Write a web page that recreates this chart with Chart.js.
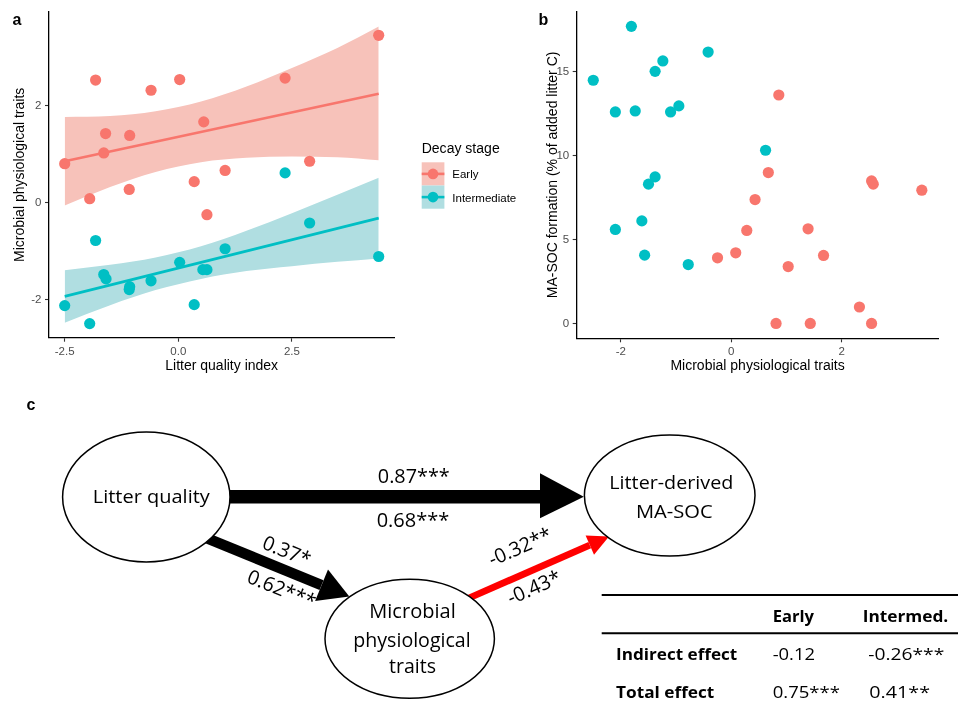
<!DOCTYPE html>
<html>
<head>
<meta charset="utf-8">
<script src="https://cdn.jsdelivr.net/npm/chart.js@4.4.0/dist/chart.umd.min.js"></script>
<style>
  html, body { margin:0; padding:0; background:#fff; }
  #wrap { position:relative; width:960px; height:708px; overflow:hidden; }
  .cv { position:absolute; }
  #overlay { position:absolute; left:0; top:0; pointer-events:none; }
</style>
</head>
<body>
<div id="wrap">
  <canvas id="chartA" class="cv" width="400" height="380" style="left:0;top:0;width:400px;height:380px"></canvas>
  <canvas id="chartB" class="cv" width="430" height="380" style="left:530px;top:0;width:430px;height:380px"></canvas>
  <svg id="overlay" width="960" height="708" xmlns="http://www.w3.org/2000/svg"></svg>
</div>
<script>
// ---------------- DATA ----------------
const SERIES = ['Early', 'Intermediate'];

// Panel a: litter quality index (x) vs microbial physiological traits (y)
const A_EARLY_X = [-2.50, -1.82, -1.60, -1.64, -1.07, -0.60, 0.03, 0.56, 2.35, 4.41, 2.89, 1.03, 0.35, -1.08, -1.95, 0.63];
const A_EARLY_Y = [0.80, 2.52, 1.42, 1.02, 1.38, 2.31, 2.53, 1.66, 2.56, 3.44, 0.85, 0.66, 0.43, 0.27, 0.08, -0.25];
const A_INTER_X = [-1.82, -2.50, -1.95, -1.64, -1.59, -1.07, -1.08, -0.60, 0.03, 0.35, 0.54, 0.63, 1.03, 2.89, 4.41, 2.35];
const A_INTER_Y = [-0.78, -2.12, -2.49, -1.48, -1.57, -1.73, -1.79, -1.61, -1.23, -2.10, -1.38, -1.38, -0.95, -0.42, -1.11, 0.61];

// fitted lines
const FIT_X = [-2.50, 4.41];
const FIT_EARLY = [0.85, 2.24];
const FIT_INTER = [-1.93, -0.32];

// confidence ribbons
const BAND_X = [-2.50, -1.50, -0.50, 0.50, 1.50, 2.50, 3.50, 4.41];
const BAND_EARLY_HI = [1.76, 1.78, 1.88, 2.08, 2.39, 2.77, 3.18, 3.62];
const BAND_EARLY_LO = [-0.06, 0.32, 0.63, 0.83, 0.92, 0.95, 0.93, 0.87];
const BAND_INTER_HI = [-1.39, -1.28, -1.13, -0.90, -0.58, -0.22, 0.16, 0.51];
const BAND_INTER_LO = [-2.47, -2.11, -1.80, -1.57, -1.41, -1.31, -1.22, -1.15];

const A_X_TICKS = [-2.5, 0, 2.5];
const A_Y_TICKS = [-2, 0, 2];

// Panel b: microbial physiological traits (x) vs MA-SOC formation (y)
const B_EARLY_X = [0.86, 0.67, 2.54, 2.57, 3.45, 0.43, 0.28, 1.39, 0.08, -0.25, 1.67, 1.03, 2.32, 0.81, 1.43, 2.54];
const B_EARLY_Y = [13.61, 8.99, 8.49, 8.30, 7.94, 7.38, 5.54, 5.64, 4.21, 3.91, 4.05, 3.39, 0.98, 0, 0, 0];
const B_INTER_X = [-1.81, -2.50, -2.10, -1.74, -1.38, -1.24, -1.10, -0.95, -0.42, 0.62, -1.38, -1.50, -2.10, -1.62, -1.57, -0.78];
const B_INTER_Y = [17.70, 14.49, 12.60, 12.66, 15.02, 15.64, 12.60, 12.96, 16.17, 10.32, 8.73, 8.30, 5.60, 6.11, 4.07, 3.51];

const B_X_TICKS = [-2, 0, 2];
const B_Y_TICKS = [0, 5, 10, 15];

// Panel c: path model
const NODE_LITTER = ['Litter quality'];
const NODE_MASOC = ['Litter-derived', 'MA-SOC'];
const NODE_MICROBE = ['Microbial', 'physiological', 'traits'];
const COEF_EARLY = ['0.87***', '0.37*', '-0.32**'];
const COEF_INTER = ['0.68***', '0.62***', '-0.43*'];
const TABLE_COLS = ['Early', 'Intermed.'];
const TABLE_ROWS = ['Indirect effect', 'Total effect'];
const TABLE_EARLY = ['-0.12', '0.75***'];
const TABLE_INTER = ['-0.26***', '0.41**'];

// ---------------- STYLE ----------------
const COL_E = '#F8766D', COL_I = '#00BFC4';
const RIB_E = '#F7C2BA', RIB_I = '#B0DEE1';
const FONT = "'Liberation Sans', Arial, Helvetica, sans-serif";
const CFONT = "'Open Sans', 'Noto Sans', sans-serif";
Chart.defaults.font.family = FONT;

const zip = (xs, ys) => xs.map((x, i) => ({ x: x, y: ys[i] }));

function band(xs, ys, fill, color) {
  return { data: zip(xs, ys), showLine: true, borderWidth: 0, borderColor: 'rgba(0,0,0,0)',
    pointRadius: 0, fill: fill, backgroundColor: color, cubicInterpolationMode: 'monotone', order: 3 };
}
function fit(xs, ys, color) {
  return { data: zip(xs, ys), showLine: true, borderWidth: 2.6, borderColor: color,
    pointRadius: 0, fill: false, order: 2 };
}
function pts(xs, ys, color) {
  return { data: zip(xs, ys), showLine: false, pointRadius: 5.6, pointBackgroundColor: color,
    pointBorderWidth: 0, pointBorderColor: color, backgroundColor: color, order: 1 };
}

function axis(min, max, ticks, fmt, title, isY, fitSize, titlePad) {
  return {
    type: 'linear', min: min, max: max,
    afterBuildTicks: s => { s.ticks = ticks.map(v => ({ value: v })); },
    afterFit: s => { if (isY) s.width = fitSize; else s.height = fitSize; },
    ticks: { callback: fmt, color: '#4D4D4D', font: { size: 11.5 }, padding: isY ? 3.5 : 3,
      maxRotation: 0, autoSkip: false },
    grid: { drawOnChartArea: false, drawTicks: true, tickLength: 4, tickColor: '#333333', tickWidth: 1.1 },
    border: { display: true, color: '#000000', width: 1.3 },
    title: { display: true, text: title, color: '#000000', font: { size: 14 }, padding: titlePad }
  };
}

function makeChart(id, datasets, xs, ys, padding) {
  return new Chart(document.getElementById(id), {
    type: 'scatter',
    data: { datasets: datasets },
    options: {
      responsive: false, animation: false, events: [],
      layout: { padding: padding },
      plugins: { legend: { display: false }, tooltip: { enabled: false } },
      scales: { x: xs, y: ys }
    }
  });
}

// Panel a
makeChart('chartA', [
  band(BAND_X, BAND_EARLY_HI, '+1', RIB_E),
  band(BAND_X, BAND_EARLY_LO, false, RIB_E),
  band(BAND_X, BAND_INTER_HI, '+1', RIB_I),
  band(BAND_X, BAND_INTER_LO, false, RIB_I),
  fit(FIT_X, FIT_EARLY, COL_E),
  fit(FIT_X, FIT_INTER, COL_I),
  pts(A_EARLY_X, A_EARLY_Y, COL_E),
  pts(A_INTER_X, A_INTER_Y, COL_I)
],
  axis(-2.8455, 4.7555, A_X_TICKS, v => v.toFixed(1), 'Litter quality index', false, 42.3, { top: 0, bottom: 5.6 }),
  axis(-2.78, 3.92, A_Y_TICKS, v => String(v), 'Microbial physiological traits', true, 49, { top: 12, bottom: 0 }),
  { top: 12, right: 0, left: 0, bottom: 0 });

// Panel b
makeChart('chartB', [
  pts(B_EARLY_X, B_EARLY_Y, COL_E),
  pts(B_INTER_X, B_INTER_Y, COL_I)
],
  axis(-2.80, 3.75, B_X_TICKS, v => String(v), 'Microbial physiological traits', false, 41.7, { top: 0, bottom: 5.6 }),
  axis(-0.885, 18.585, B_Y_TICKS, v => String(v), 'MA-SOC formation (% of added litter C)', true, 46.7, { top: 14.6, bottom: 0 }),
  { top: 11.5, right: 21.6, left: 0, bottom: 0 });

// ---------------- OVERLAY (labels, legend, panel c) ----------------
const svg = [];
function t(s, x, y, o) {
  o = o || {};
  const fam = o.fam || CFONT;
  const attrs = [
    `x="${x}"`, `y="${y}"`, `font-family="${fam}"`, `font-size="${o.size || 20}"`,
    `fill="${o.fill || '#000'}"`, `text-anchor="${o.anchor || 'start'}"`
  ];
  if (o.weight) attrs.push(`font-weight="${o.weight}"`);
  if (o.len) attrs.push(`textLength="${o.len}"`, `lengthAdjust="spacingAndGlyphs"`);
  if (o.rot !== undefined) attrs.push(`transform="rotate(${o.rot} ${o.rx} ${o.ry})"`);
  svg.push(`<text ${attrs.join(' ')}>${s}</text>`);
}
function poly(p, fill) {
  svg.push(`<polygon points="${p.map(q => q[0].toFixed(1) + ',' + q[1].toFixed(1)).join(' ')}" fill="${fill}"/>`);
}
function arrow(S, T, shaftHalf, headLen, headHalf, color) {
  const dx = T[0] - S[0], dy = T[1] - S[1], L = Math.hypot(dx, dy);
  const u = [dx / L, dy / L], n = [-u[1], u[0]];
  const B = [T[0] - headLen * u[0], T[1] - headLen * u[1]];
  const add = (P, v, k) => [P[0] + v[0] * k, P[1] + v[1] * k];
  poly([add(S, n, shaftHalf), add(B, n, shaftHalf), add(B, n, -shaftHalf), add(S, n, -shaftHalf)], color);
  poly([add(B, n, headHalf), T, add(B, n, -headHalf)], color);
}

// panel labels
t('a', 12.5, 25, { fam: FONT, size: 16, weight: 700 });
t('b', 538.5, 25, { fam: FONT, size: 16, weight: 700 });
t('c', 26.5, 410, { fam: FONT, size: 16, weight: 700 });

// legend for panel a
t('Decay stage', 421.7, 153.3, { fam: FONT, size: 14, len: 78 });
const legCols = [[COL_E, RIB_E], [COL_I, RIB_I]];
SERIES.forEach((name, i) => {
  const y0 = 162.3 + i * 23.2;
  svg.push(`<rect x="421.7" y="${y0}" width="22.7" height="23.2" fill="${legCols[i][1]}"/>`);
  svg.push(`<line x1="421.7" x2="444.4" y1="${y0 + 11.6}" y2="${y0 + 11.6}" stroke="${legCols[i][0]}" stroke-width="2.6"/>`);
  svg.push(`<circle cx="433" cy="${y0 + 11.6}" r="5.3" fill="${legCols[i][0]}"/>`);
  t(name, 452.3, y0 + 16, { fam: FONT, size: 11.5 });
});

// panel c arrows
svg.push(`<rect x="222" y="490" width="319" height="13.5" fill="#000"/>`);
poly([[540, 473.3], [583.8, 496.7], [540, 518.3]], '#000');
arrow([195, 533.4], [349.3, 596.5], 5.3, 30, 17, '#000');
arrow([460, 602], [609, 536.6], 3.4, 21, 10.5, '#FF0000');

// ellipses
const ell = (cx, cy, rx, ry) => svg.push(`<ellipse cx="${cx}" cy="${cy}" rx="${rx}" ry="${ry}" fill="#fff" stroke="#000" stroke-width="1.5"/>`);
ell(146.3, 497, 83.7, 65);
ell(669.7, 495.5, 85.3, 60.5);
ell(409.7, 638.8, 84.7, 59.5);

// node texts
t(NODE_LITTER[0], 151.3, 503, { anchor: 'middle', size: 19, len: 117 });
t(NODE_MASOC[0], 671.3, 489, { anchor: 'middle', size: 19, len: 124 });
t(NODE_MASOC[1], 674.3, 517.7, { anchor: 'middle', size: 19, len: 76.7 });
t(NODE_MICROBE[0], 412.5, 618.3, { anchor: 'middle', size: 20, len: 86.4 });
t(NODE_MICROBE[1], 412, 647.3, { anchor: 'middle', size: 20, len: 117.4 });
t(NODE_MICROBE[2], 412.5, 672.7, { anchor: 'middle', size: 20, len: 47 });

// coefficients
t(COEF_EARLY[0], 413.8, 482.7, { anchor: 'middle', size: 20, len: 72 });
t(COEF_INTER[0], 413, 527.3, { anchor: 'middle', size: 20, len: 72.6 });
t(COEF_EARLY[1], 286.7, 558, { anchor: 'middle', size: 20, len: 50, rot: 22, rx: 286.7, ry: 551 });
t(COEF_INTER[1], 281.7, 596, { anchor: 'middle', size: 20, len: 72, rot: 22, rx: 281.7, ry: 589 });
t(COEF_EARLY[2], 520, 553.7, { anchor: 'middle', size: 20, len: 67, rot: -23.8, rx: 520, ry: 546.7 });
t(COEF_INTER[2], 534, 594.3, { anchor: 'middle', size: 20, len: 56.5, rot: -23.8, rx: 534, ry: 587.3 });

// table
svg.push(`<line x1="601.7" x2="958" y1="595" y2="595" stroke="#000" stroke-width="2"/>`);
svg.push(`<line x1="601.7" x2="958" y1="633.3" y2="633.3" stroke="#000" stroke-width="2"/>`);
t(TABLE_COLS[0], 772.7, 621.7, { size: 16, weight: 700, len: 41.3 });
t(TABLE_COLS[1], 862.7, 621.7, { size: 16, weight: 700, len: 85.6 });
const rowY = [660, 698.3];
const rowLen = [121.3, 98.3];
const eLen = [42.3, 67.3];
const iLen = [76, 60.7];
const iX = [868.3, 869.3];
TABLE_ROWS.forEach((r, i) => {
  t(r, 616, rowY[i], { size: 16, weight: 700, len: rowLen[i] });
  t(TABLE_EARLY[i], 772.7, rowY[i], { size: 16, len: eLen[i] });
  t(TABLE_INTER[i], iX[i], rowY[i], { size: 16, len: iLen[i] });
});

document.getElementById('overlay').innerHTML = svg.join('\n');
</script>
</body>
</html>
